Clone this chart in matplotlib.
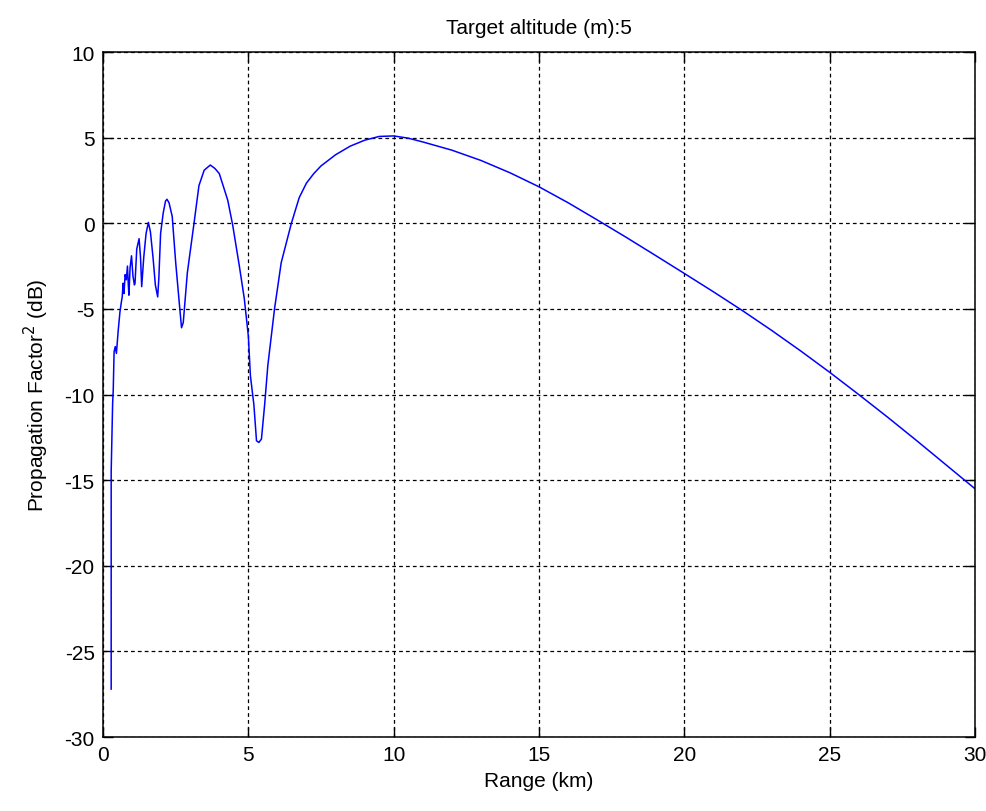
#
# plot.py
#   - Propagation factor vs range for a low-altitude target.
#

import matplotlib
matplotlib.use("Agg")
import matplotlib.pyplot as plt

# Range (km) and propagation factor squared (dB).
range_km = [
    0.28, 0.28, 0.33, 0.35, 0.38, 0.42, 0.46, 0.52, 0.58, 0.63, 0.66, 0.69,
    0.72, 0.76, 0.80, 0.84, 0.87, 0.89, 0.93, 0.98, 1.03, 1.08, 1.10, 1.16,
    1.24, 1.29, 1.33, 1.40, 1.48, 1.56, 1.63, 1.72, 1.80, 1.88, 1.92, 1.98,
    2.07, 2.15, 2.20, 2.27, 2.38, 2.50, 2.61, 2.70, 2.76, 2.90, 3.13, 3.30,
    3.48, 3.69, 3.85, 4.00, 4.29, 4.46, 4.69, 4.86, 5.00, 5.07, 5.19, 5.28,
    5.36, 5.45, 5.56, 5.67, 5.90, 6.13, 6.48, 6.75, 7.00, 7.25, 7.50, 8.00,
    8.50, 9.00, 9.50, 10.0, 10.5, 11.0, 12.0, 13.0, 14.0, 15.0, 16.0, 17.0,
    18.0, 19.0, 20.0, 21.0, 22.0, 23.0, 24.0, 25.0, 26.0, 27.0, 28.0, 29.0,
    30.0,
]
factor_db = [
    -27.2, -14.5, -10.5, -9.8, -7.5, -7.2, -7.6, -6.3, -5.2, -4.6, -4.3, -3.5,
    -4.1, -3.0, -3.3, -2.5, -3.6, -4.2, -2.6, -1.9, -3.1, -3.6, -3.5, -1.5,
    -0.9, -2.0, -3.7, -2.0, -0.6, 0.05, -0.5, -2.0, -3.6, -4.3, -3.2, -0.6,
    0.6, 1.3, 1.4, 1.2, 0.4, -2.3, -4.4, -6.1, -5.8, -2.9, 0.0, 2.2,
    3.1, 3.4, 3.2, 2.9, 1.35, -0.1, -2.5, -4.4, -6.6, -8.9, -10.6, -12.7,
    -12.8, -12.6, -10.6, -8.3, -5.0, -2.3, 0.0, 1.5, 2.35, 2.9, 3.35, 4.0,
    4.5, 4.85, 5.07, 5.1, 4.97, 4.75, 4.27, 3.67, 2.95, 2.13, 1.2, 0.2,
    -0.82, -1.87, -2.93, -4.0, -5.1, -6.25, -7.45, -8.7, -10.0, -11.33, -12.7, -14.1,
    -15.5,
]

x_ticks = [0, 5, 10, 15, 20, 25, 30]
y_ticks = [-30, -25, -20, -15, -10, -5, 0, 5, 10]

plt.rcParams['font.family'] = ['Liberation Sans', 'DejaVu Sans']
plt.rcParams['axes.unicode_minus'] = False


def main():
    fig = plt.figure(figsize=(9.87, 8.12), dpi=100)
    ax = fig.add_axes([0.1044, 0.0911, 0.8834, 0.8436])

    ax.plot(range_km, factor_db, color='#0000ff', lw=1.1)

    ax.set_xlim(0, 30)
    ax.set_ylim(-30, 10)
    ax.set_xticks(x_ticks)
    ax.set_yticks(y_ticks)
    ax.grid(True, color='black', linestyle=(0, (3, 2.5)), linewidth=0.9)
    ax.tick_params(direction='in', length=7, width=1.0, top=True, right=True,
                   labelsize=15, pad=6)
    for side in ax.spines.values():
        side.set_linewidth(1.1)

    ax.set_title("Target altitude (m):5", fontsize=15, pad=14)
    ax.set_xlabel("Range (km)", fontsize=15, labelpad=5)
    ax.set_ylabel("Propagation Factor$^2$ (dB)", fontsize=15, labelpad=10)

    fig.savefig("out.png", dpi=100)


if __name__ == "__main__":
    main()
